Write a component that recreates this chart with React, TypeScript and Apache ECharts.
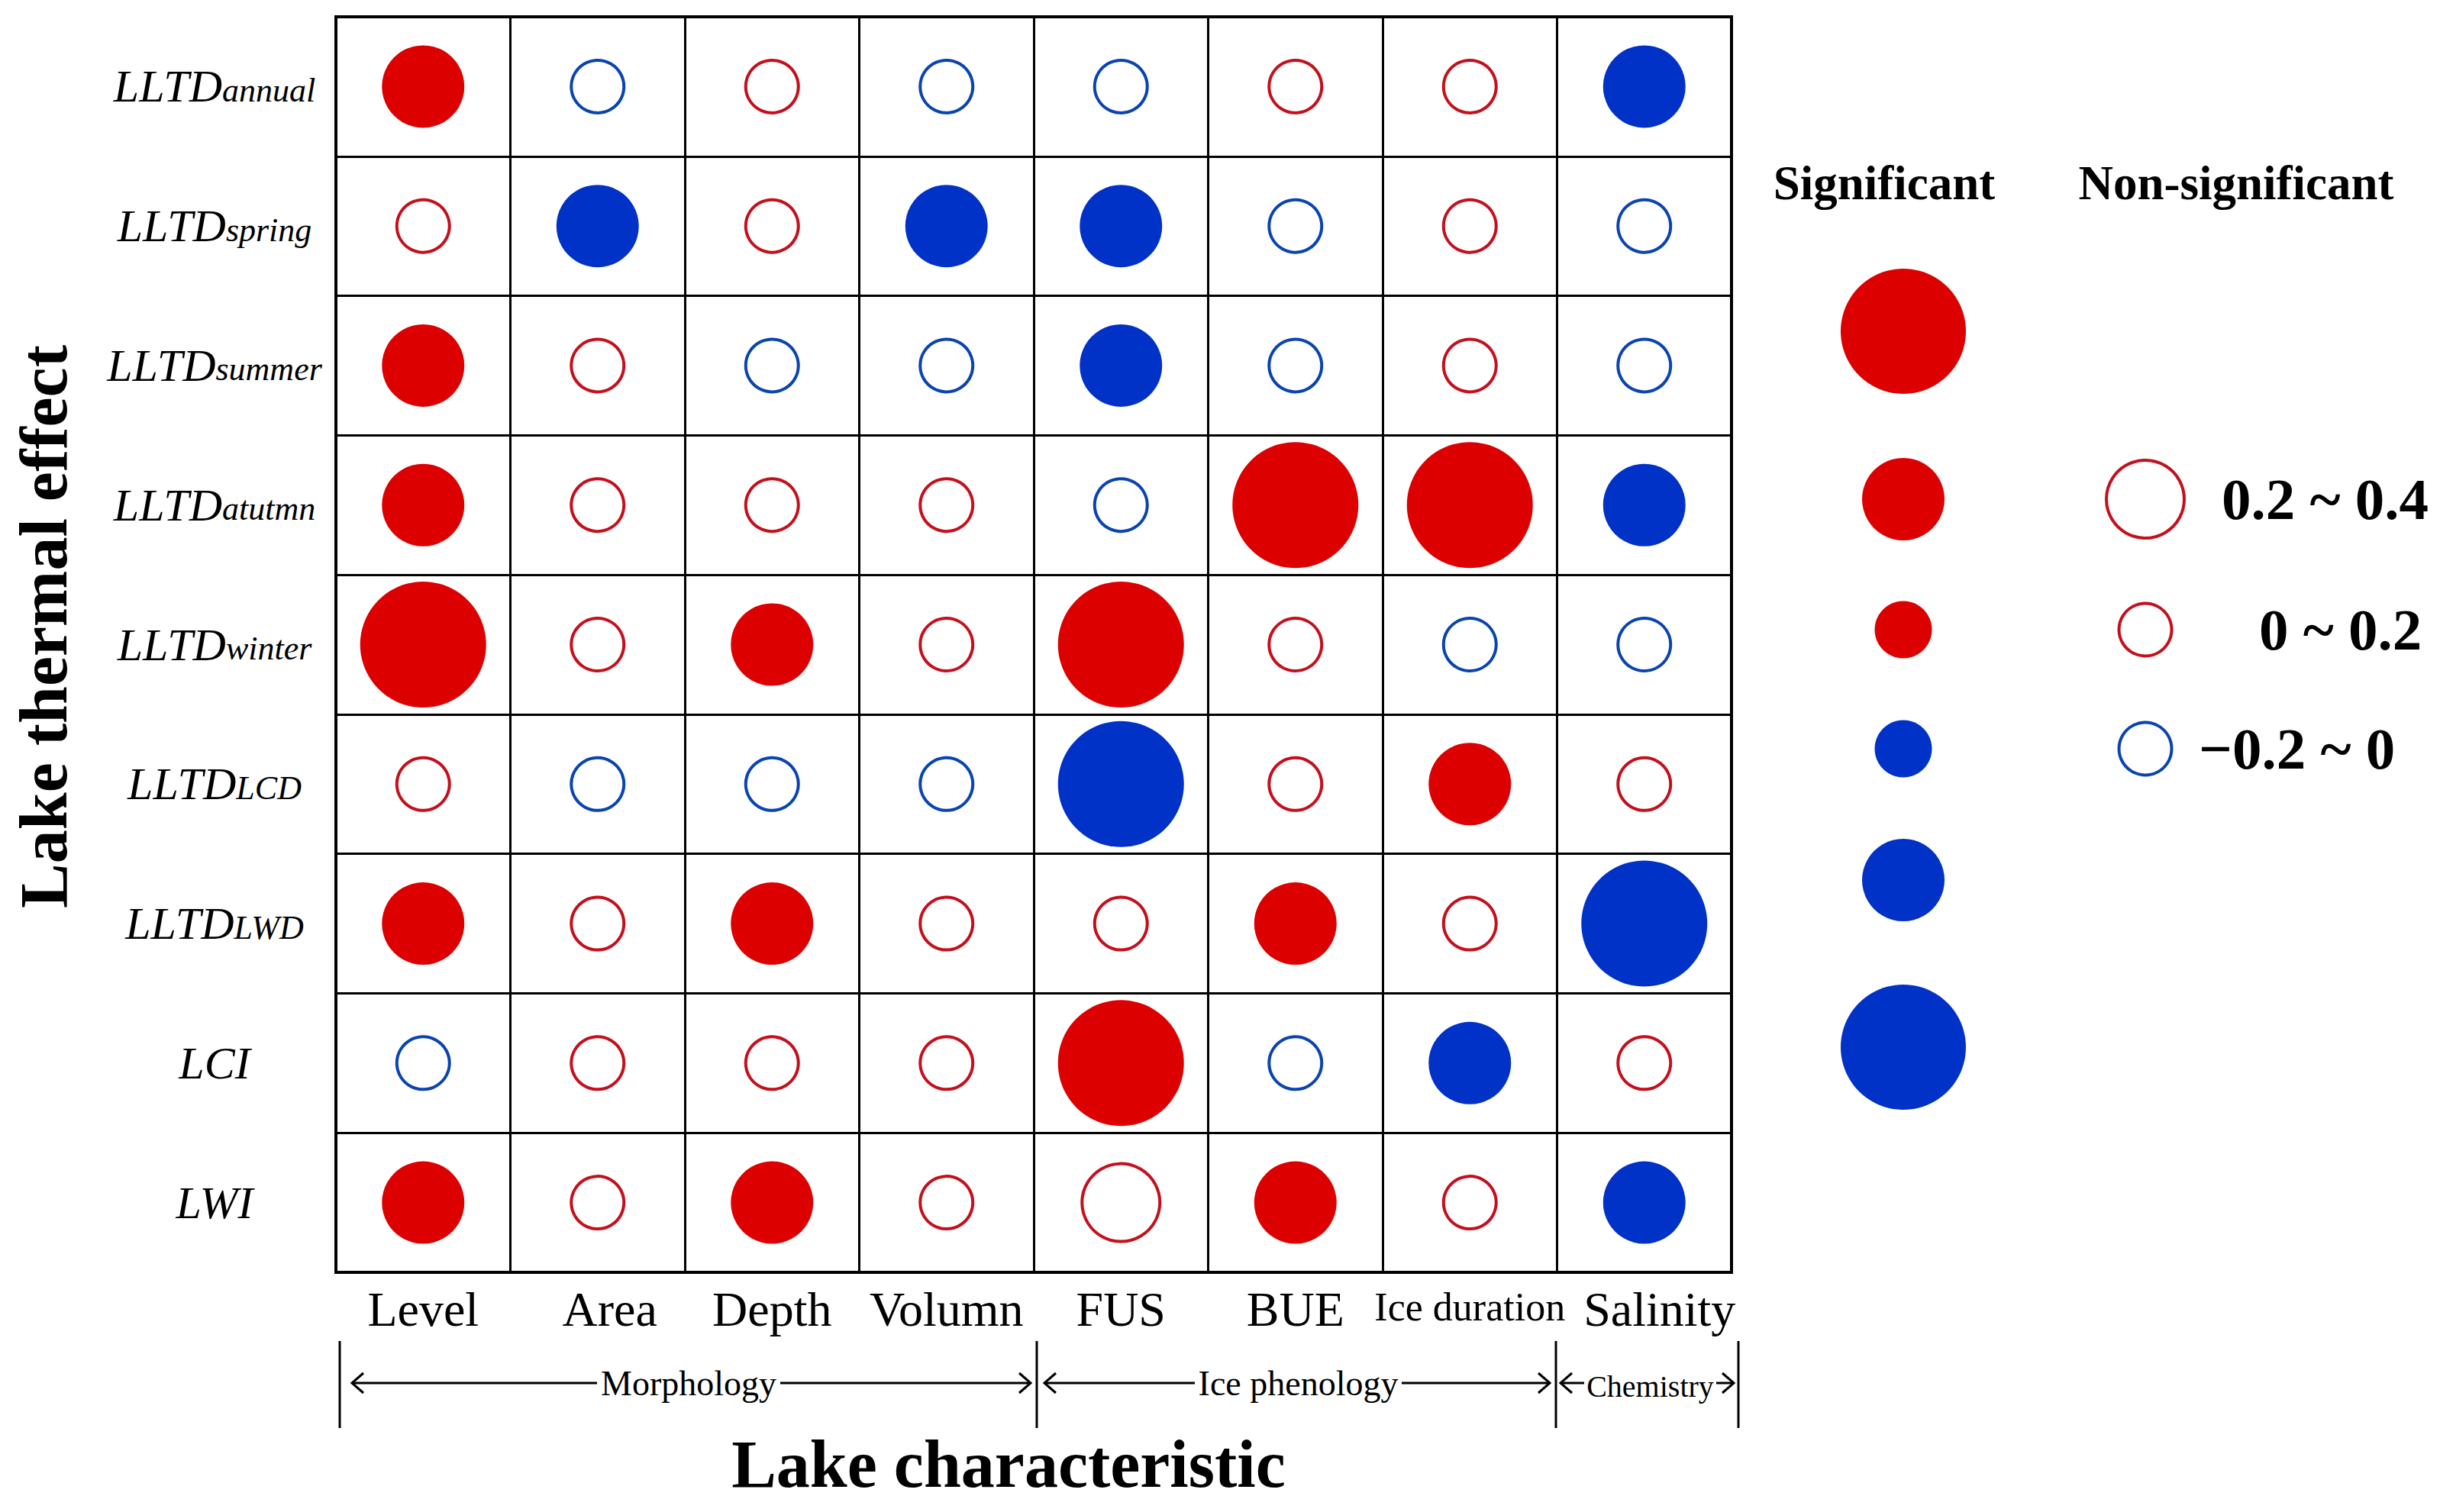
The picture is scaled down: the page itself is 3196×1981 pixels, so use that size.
import React, { useEffect, useRef } from 'react';
import * as echarts from 'echarts';

// ---------- data ----------
const columns = ['Level', 'Area', 'Depth', 'Volumn', 'FUS', 'BUE', 'Ice duration', 'Salinity'];
const rowMain = ['LLTD', 'LLTD', 'LLTD', 'LLTD', 'LLTD', 'LLTD', 'LLTD', 'LCI', 'LWI'];
const rowSub = ['annual', 'spring', 'summer', 'atutmn', 'winter', 'LCD', 'LWD', '', ''];

// correlation coefficients (estimated by bin) and significance (1 = significant)
const corrAnnual = [0.3, -0.1, 0.1, -0.1, -0.1, 0.1, 0.1, -0.3];
const sigAnnual = [1, 0, 0, 0, 0, 0, 0, 1];
const corrSpring = [0.1, -0.3, 0.1, -0.3, -0.3, -0.1, 0.1, -0.1];
const sigSpring = [0, 1, 0, 1, 1, 0, 0, 0];
const corrSummer = [0.3, 0.1, -0.1, -0.1, -0.3, -0.1, 0.1, -0.1];
const sigSummer = [1, 0, 0, 0, 1, 0, 0, 0];
const corrAutumn = [0.3, 0.1, 0.1, 0.1, -0.1, 0.5, 0.5, -0.3];
const sigAutumn = [1, 0, 0, 0, 0, 1, 1, 1];
const corrWinter = [0.5, 0.1, 0.3, 0.1, 0.5, 0.1, -0.1, -0.1];
const sigWinter = [1, 0, 1, 0, 1, 0, 0, 0];
const corrLCD = [0.1, -0.1, -0.1, -0.1, -0.5, 0.1, 0.3, 0.1];
const sigLCD = [0, 0, 0, 0, 1, 0, 1, 0];
const corrLWD = [0.3, 0.1, 0.3, 0.1, 0.1, 0.3, 0.1, -0.5];
const sigLWD = [1, 0, 1, 0, 0, 1, 0, 1];
const corrLCI = [-0.1, 0.1, 0.1, 0.1, 0.5, -0.1, -0.3, 0.1];
const sigLCI = [0, 0, 0, 0, 1, 0, 1, 0];
const corrLWI = [0.3, 0.1, 0.3, 0.1, 0.3, 0.3, 0.1, -0.3];
const sigLWI = [1, 0, 1, 0, 0, 1, 0, 1];

const groupNames = ['Morphology', 'Ice phenology', 'Chemistry'];
const legendSigLabels = ['Significant', 'Non-significant'];
const legendRangeLabels = ['0.2 ~ 0.4', '0 ~ 0.2', '\u22120.2 ~ 0'];

const corrRows = [corrAnnual, corrSpring, corrSummer, corrAutumn, corrWinter, corrLCD, corrLWD, corrLCI, corrLWI];
const sigRows = [sigAnnual, sigSpring, sigSummer, sigAutumn, sigWinter, sigLCD, sigLWD, sigLCI, sigLWI];

// ---------- styles ----------
const SERIF = '"Liberation Serif", "Times New Roman", serif';
const RED = '#dd0000';
const BLUE = '#0032c8';
const RED_LINE = '#c4101c';
const BLUE_LINE = '#0a44b0';
const FILLED_SIZES = [75, 108, 165];
const HOLLOW_SIZES = [69, 102, 160];
const RING = 4;

function bin(r: number) {
  const a = Math.abs(r);
  return a < 0.2 ? 0 : a < 0.4 ? 1 : 2;
}

function buildData() {
  const data: any[] = [];
  corrRows.forEach((row, yi) => {
    row.forEach((r, xi) => {
      const sig = sigRows[yi][xi] === 1;
      const b = bin(r);
      const pos = r >= 0;
      data.push({
        value: [xi, yi, r],
        symbolSize: sig ? FILLED_SIZES[b] : HOLLOW_SIZES[b],
        itemStyle: sig
          ? { color: pos ? RED : BLUE, borderWidth: 0, opacity: 1 }
          : { color: 'rgba(255,255,255,0)', borderColor: pos ? RED_LINE : BLUE_LINE, borderWidth: RING, opacity: 1 },
      });
    });
  });
  return data;
}

function arrowGroup(x1: number, x2: number, y: number, t1: number, t2: number, label: string, fs: number, ty: number) {
  const c = 15, h = 13, lw = 3;
  const st = { stroke: '#000', lineWidth: lw, fill: 'none' };
  return [
    { type: 'line', shape: { x1, y1: y, x2: t1, y2: y }, style: st },
    { type: 'line', shape: { x1: t2, y1: y, x2, y2: y }, style: st },
    { type: 'polyline', shape: { points: [[x1 + c, y - h], [x1, y], [x1 + c, y + h]] }, style: st },
    { type: 'polyline', shape: { points: [[x2 - c, y - h], [x2, y], [x2 - c, y + h]] }, style: st },
    {
      type: 'text', x: (t1 + t2) / 2, y: ty,
      style: { text: label, fontFamily: SERIF, fontSize: fs, fill: '#000', align: 'center', verticalAlign: 'middle' },
    },
  ];
}

function buildGraphic() {
  const g: any[] = [];
  // axis titles
  g.push({
    type: 'text', x: 57, y: 821, rotation: Math.PI / 2,
    style: { text: 'Lake thermal effect', fontFamily: SERIF, fontWeight: 'bold', fontSize: 88, fill: '#000', align: 'center', verticalAlign: 'middle' },
  });
  g.push({
    type: 'text', x: 1321, y: 1918,
    style: { text: 'Lake characteristic', fontFamily: SERIF, fontWeight: 'bold', fontSize: 88, fill: '#000', align: 'center', verticalAlign: 'middle' },
  });
  // group brackets
  const bars = [445, 1358, 2038, 2277];
  bars.forEach((x) => g.push({ type: 'line', shape: { x1: x, y1: 1757, x2: x, y2: 1871 }, style: { stroke: '#000', lineWidth: 3 } }));
  g.push(...arrowGroup(461, 1350, 1812, 782, 1022, groupNames[0], 46, 1812));
  g.push(...arrowGroup(1368, 2030, 1812, 1565, 1836, groupNames[1], 46, 1812));
  g.push(...arrowGroup(2044, 2271, 1812, 2075, 2248, groupNames[2], 40, 1816));

  // legend headers
  g.push({ type: 'text', x: 2468, y: 240, style: { text: legendSigLabels[0], fontFamily: SERIF, fontWeight: 'bold', fontSize: 63, fill: '#000', align: 'center', verticalAlign: 'middle' } });
  g.push({ type: 'text', x: 2929, y: 240, style: { text: legendSigLabels[1], fontFamily: SERIF, fontWeight: 'bold', fontSize: 63, fill: '#000', align: 'center', verticalAlign: 'middle' } });
  // significant circles
  const sigY = [434, 654, 825, 981, 1153, 1372];
  const sigR = [82, 54, 37.5, 37.5, 54, 82];
  const sigC = [RED, RED, RED, BLUE, BLUE, BLUE];
  sigY.forEach((y, i) => g.push({ type: 'circle', shape: { cx: 2493, cy: y, r: sigR[i] }, style: { fill: sigC[i] } }));
  // non-significant circles
  const nsY = [654, 825, 981];
  const nsR = [51, 34.5, 34.5];
  const nsC = [RED_LINE, RED_LINE, BLUE_LINE];
  nsY.forEach((y, i) => g.push({ type: 'circle', shape: { cx: 2810, cy: y, r: nsR[i] }, style: { fill: 'none', stroke: nsC[i], lineWidth: RING } }));
  const lx = [2910, 2959, 2880];
  legendRangeLabels.forEach((t, i) =>
    g.push({ type: 'text', x: lx[i], y: nsY[i], style: { text: t, fontFamily: SERIF, fontWeight: 'bold', fontSize: 77, fill: '#000', align: 'left', verticalAlign: 'middle' } })
  );
  return g;
}

const categoriesY = rowMain.map((m, i) => m + rowSub[i]);

const option: any = {
  animation: false,
  backgroundColor: '#ffffff',
  grid: {
    left: 440, top: 22, width: 1828, height: 1645,
    show: true, borderColor: '#000', borderWidth: 4, backgroundColor: 'rgba(0,0,0,0)',
  },
  xAxis: {
    type: 'category',
    data: columns,
    boundaryGap: true,
    axisLine: { show: false },
    axisTick: { show: false },
    splitLine: { show: true, interval: 0, lineStyle: { color: '#000', width: 3 } },
    axisLabel: {
      interval: 0,
      margin: 16,
      color: '#000',
      fontFamily: SERIF,
      formatter: (v: string) =>
        v === 'Ice duration' ? `{d|${v}}` : v === 'Area' ? `{a|${v}}` : v === 'Salinity' ? `{s|${v}}` : `{n|${v}}`,
      rich: {
        n: { fontFamily: SERIF, fontSize: 64, lineHeight: 64, color: '#000' },
        a: { fontFamily: SERIF, fontSize: 64, lineHeight: 64, color: '#000', padding: [0, 0, 0, 32] },
        s: { fontFamily: SERIF, fontSize: 64, lineHeight: 64, color: '#000', padding: [0, 0, 0, 40] },
        d: { fontFamily: SERIF, fontSize: 52, lineHeight: 58, color: '#000' },
      },
    },
  },
  yAxis: {
    type: 'category',
    data: categoriesY,
    inverse: true,
    boundaryGap: true,
    axisLine: { show: false },
    axisTick: { show: false },
    splitLine: { show: true, interval: 0, lineStyle: { color: '#000', width: 3 } },
    axisLabel: {
      interval: 0,
      margin: 159,
      align: 'center',
      color: '#000',
      formatter: (_v: string, i: number) =>
        rowSub[i] ? `{m|${rowMain[i]}}{s|${rowSub[i]}}` : `{m|${rowMain[i]}}`,
      rich: {
        m: { fontFamily: SERIF, fontStyle: 'italic', fontSize: 60, lineHeight: 60, verticalAlign: 'bottom', color: '#000' },
        s: { fontFamily: SERIF, fontStyle: 'italic', fontSize: 44, lineHeight: 44, verticalAlign: 'bottom', padding: [0, 0, 3, 0], color: '#000' },
      },
    },
  },
  series: [
    {
      type: 'scatter',
      symbol: 'circle',
      data: buildData(),
      silent: true,
      itemStyle: { opacity: 1 },
      z: 5,
    },
  ],
  graphic: buildGraphic(),
};

export default function App() {
  const ref = useRef<HTMLDivElement>(null);
  useEffect(() => {
    const chart = echarts.init(ref.current as HTMLDivElement, null, { renderer: 'svg' });
    chart.setOption(option);
    return () => chart.dispose();
  }, []);
  return (
    <div
      ref={ref}
      style={{ position: 'fixed', left: 0, top: 0, width: 3196, height: 1981, background: '#fff' }}
    />
  );
}
